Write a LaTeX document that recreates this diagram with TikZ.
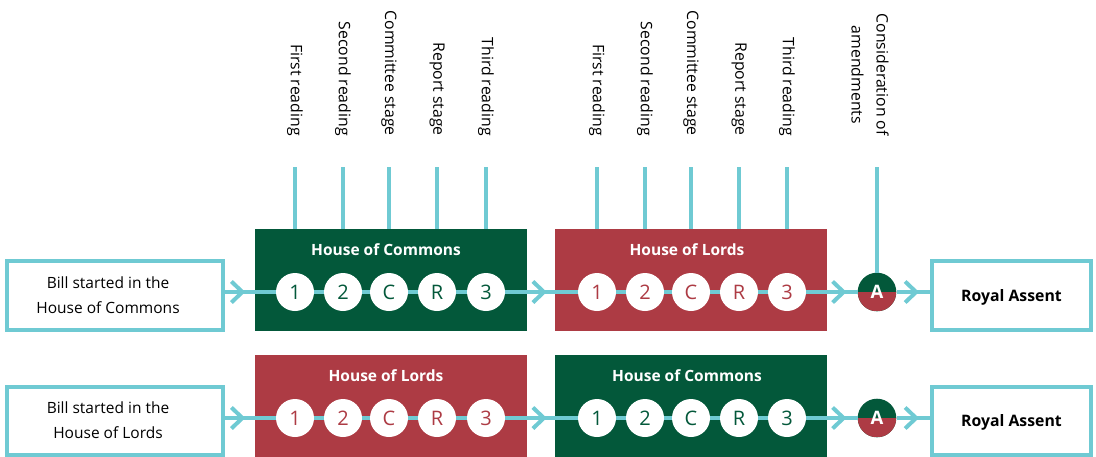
\documentclass[tikz,border=0pt]{standalone}
\usepackage{fontspec}
\setmainfont{Open Sans}
\usetikzlibrary{arrows.meta}
\definecolor{cy}{HTML}{6FCAD3}
\definecolor{hgreen}{HTML}{03583A}
\definecolor{hred}{HTML}{AD3B44}
\begin{document}
\begin{tikzpicture}[x=1pt,y=-1pt,
 flow/.style={draw=cy,line width=4pt},
 chev/.style={draw=cy,line width=4pt,-{Straight Barb[length=11pt,width=21pt,line cap=butt,line join=miter]}},
 startbox/.style={draw=cy,line width=4pt,fill=white,minimum width=216pt,minimum height=69pt,inner sep=0pt},
 starttext/.style={align=center,inner sep=0pt,font=\fontsize{15.5}{25}\selectfont},
 endbox/.style={draw=cy,line width=4pt,fill=white,minimum width=159pt,minimum height=69pt,inner sep=0pt,text depth=0pt,font=\bfseries\fontsize{15.8}{20}\selectfont},
 house/.style={minimum width=272pt,minimum height=102pt,inner sep=0pt},
 title/.style={text=white,font=\bfseries\fontsize{15.5}{18}\selectfont,inner sep=0pt},
 stagec/.style={circle,fill=white,minimum size=38pt,inner sep=0pt,font=\fontsize{20}{20}\selectfont},
 acirc/.style={circle,fill=hgreen,minimum size=38.6pt,inner sep=0pt,text=white,font=\bfseries\fontsize{18.5}{18.5}\selectfont,
   path picture={\fill[hred] (path picture bounding box.west) rectangle (path picture bounding box.south east);}},
 lab/.style={rotate=-90,anchor=east,inner sep=0pt,align=center,font=\fontsize{15.8}{25}\selectfont}
]
\useasboundingbox (0,0) rectangle (1096,456);

% ---------- Row 1 ----------
\node[house,fill=hgreen] (b11) at (390.5,280) {};
\node[house,fill=hred] (b12) at (691,280) {};
\node[title] (t11) at (386,250) {House of Commons};
\node[title] (t12) at (687,250) {House of Lords};
\node[startbox] (s1) at (115,295.5) {};
\node[starttext] (st1) at (108,295) {Bill started in the\\House of Commons};
\node[acirc] (a1) at (877,292) {A};
\node[endbox] (r1) at (1011.5,295.5) {Royal Assent};

\draw[flow] (s1.east |- a1) -- (b11.west |- a1);
\draw[chev,shorten >=9pt] (s1.east |- a1) -- (b11.west |- a1);
\draw[flow] (b11.west |- a1) -- (b11.east |- a1);
\draw[flow] (b11.east |- a1) -- (b12.west |- a1);
\draw[chev,shorten >=8pt] (b11.east |- a1) -- (b12.west |- a1);
\draw[flow] (b12.west |- a1) -- (b12.east |- a1);
\draw[flow] (b12.east |- a1) -- (a1.west);
\draw[chev,shorten >=11pt] (b12.east |- a1) -- (a1.west);
\draw[flow] (a1.east) -- (r1.west |- a1);
\draw[chev,shorten >=11pt] (a1.east) -- (r1.west |- a1);

\foreach \x/\t [count=\i] in {295/1,343/2,389/C,437/R,486/3}{
  \node[stagec,text=hgreen] (c1a\i) at (\x,292) {\t};
  \coordinate (k1a\i) at (\x,167);
  \draw[flow] (k1a\i) -- (k1a\i |- b11.north);
}
\foreach \x/\t [count=\i] in {597/1,645/2,691/C,739/R,787/3}{
  \node[stagec,text=hred] (c1b\i) at (\x,292) {\t};
  \coordinate (k1b\i) at (\x,167);
  \draw[flow] (k1b\i) -- (k1b\i |- b12.north);
}
\coordinate (kA) at (877,167);
\draw[flow] (kA) -- (a1.north);

% labels
\node[lab] (la1) at (295,136) {First reading};
\node[lab] (la2) at (343,136) {Second reading};
\node[lab] (la3) at (389,136) {Committee stage};
\node[lab] (la4) at (437,136) {Report stage};
\node[lab] (la5) at (486,136) {Third reading};
\node[lab] (lb1) at (597,136) {First reading};
\node[lab] (lb2) at (645,136) {Second reading};
\node[lab] (lb3) at (691,136) {Committee stage};
\node[lab] (lb4) at (739,136) {Report stage};
\node[lab] (lb5) at (787,136) {Third reading};
\node[lab] (lA) at (870,136) {Consideration of\\amendments};

% ---------- Row 2 ----------
\node[house,minimum height=105pt,fill=hred] (b21) at (390.5,407.5) {};
\node[house,minimum height=105pt,fill=hgreen] (b22) at (691,407.5) {};
\node[title] (t21) at (386,375.5) {House of Lords};
\node[title] (t22) at (687,375.5) {House of Commons};
\node[startbox,minimum height=68pt] (s2) at (115,420.5) {};
\node[starttext] (st2) at (108,420.5) {Bill started in the\\House of Lords};
\node[acirc] (a2) at (877,418) {A};
\node[endbox,minimum height=68pt] (r2) at (1011.5,420.5) {Royal Assent};

\draw[flow] (s2.east |- a2) -- (b21.west |- a2);
\draw[chev,shorten >=9pt] (s2.east |- a2) -- (b21.west |- a2);
\draw[flow] (b21.west |- a2) -- (b21.east |- a2);
\draw[flow] (b21.east |- a2) -- (b22.west |- a2);
\draw[chev,shorten >=8pt] (b21.east |- a2) -- (b22.west |- a2);
\draw[flow] (b22.west |- a2) -- (b22.east |- a2);
\draw[flow] (b22.east |- a2) -- (a2.west);
\draw[chev,shorten >=11pt] (b22.east |- a2) -- (a2.west);
\draw[flow] (a2.east) -- (r2.west |- a2);
\draw[chev,shorten >=11pt] (a2.east) -- (r2.west |- a2);

\foreach \x/\t [count=\i] in {295/1,343/2,389/C,437/R,486/3}{
  \node[stagec,text=hred] (c2a\i) at (\x,418) {\t};
}
\foreach \x/\t [count=\i] in {597/1,645/2,691/C,739/R,787/3}{
  \node[stagec,text=hgreen] (c2b\i) at (\x,418) {\t};
}
\end{tikzpicture}
\end{document}
